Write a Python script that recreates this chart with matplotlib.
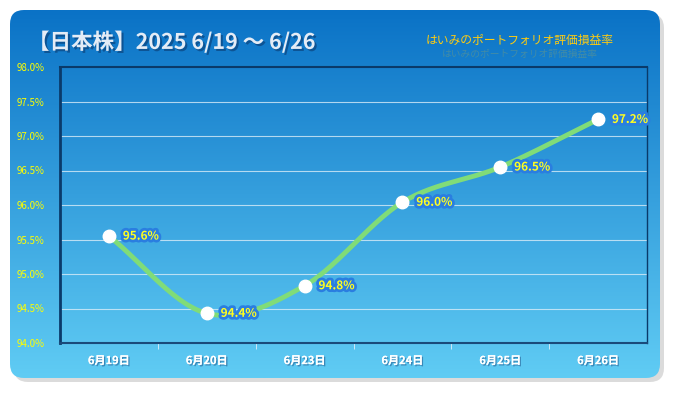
import numpy as np
import matplotlib
matplotlib.use("Agg")
import matplotlib.pyplot as plt
import matplotlib.patheffects as pe
from matplotlib.patches import FancyBboxPatch

plt.rcParams['font.family'] = ['Noto Sans CJK JP', 'DejaVu Sans']

dates = ["6月19日", "6月20日", "6月23日", "6月24日", "6月25日", "6月26日"]
values = [95.55, 94.43, 94.83, 96.04, 96.55, 97.24]
labels = ["95.6%", "94.4%", "94.8%", "96.0%", "96.5%", "97.2%"]
yticks = [94.0, 94.5, 95.0, 95.5, 96.0, 96.5, 97.0, 97.5, 98.0]

title = "【日本株】2025 6/19 〜 6/26"
subtitle = "はいみのポートフォリオ評価損益率"


def smooth(xs, ys, n=30):
    # catmull-rom curve through the points
    px = np.concatenate([[2 * xs[0] - xs[1]], xs, [2 * xs[-1] - xs[-2]]])
    py = np.concatenate([[2 * ys[0] - ys[1]], ys, [2 * ys[-1] - ys[-2]]])
    ox, oy = [], []
    for i in range(1, len(px) - 2):
        t = np.linspace(0, 1, n)
        for arr, out in ((px, ox), (py, oy)):
            p0, p1, p2, p3 = arr[i - 1], arr[i], arr[i + 1], arr[i + 2]
            out.extend(0.5 * ((2 * p1) + (-p0 + p2) * t
                              + (2 * p0 - 5 * p1 + 4 * p2 - p3) * t ** 2
                              + (-p0 + 3 * p1 - 3 * p2 + p3) * t ** 3))
    return np.array(ox), np.array(oy)


W, H = 675, 393
fig = plt.figure(figsize=(W / 100, H / 100), dpi=100)
fig.patch.set_facecolor("white")

bg = fig.add_axes([0, 0, 1, 1])
bg.set_xlim(0, W)
bg.set_ylim(H, 0)
bg.axis("off")

# shadow
shadow = FancyBboxPatch((14, 14), 650, 368, boxstyle="round,pad=0,rounding_size=14",
                        fc="#c4c4c4", ec="none", alpha=0.6)
bg.add_patch(shadow)
panel = FancyBboxPatch((10, 10), 650, 368, boxstyle="round,pad=0,rounding_size=14",
                       fc="none", ec="none")
bg.add_patch(panel)
grad = np.linspace(0, 1, 256).reshape(-1, 1)
top_c = np.array([0x0a, 0x72, 0xc6]) / 255
bot_c = np.array([0x60, 0xcc, 0xf4]) / 255
img = top_c + (bot_c - top_c) * grad[..., None]
im = bg.imshow(img, extent=[10, 660, 378, 10], aspect="auto", zorder=1)
im.set_clip_path(panel)

bg.text(28, 42, title, color="#e4ecf6", fontsize=15.5, fontweight="bold", va="center",
        path_effects=[pe.withSimplePatchShadow(offset=(1.5, -1.5), shadow_rgbFace="#0a3a70", alpha=0.6)],
        zorder=3)
bg.text(520, 40, subtitle, color="#ffcc10", fontsize=8.5, style="italic", ha="center",
        va="center", zorder=3)
bg.text(520, 54, subtitle, color="#ffcc10", fontsize=7, style="italic", ha="center",
        va="center", alpha=0.2, zorder=3)

ax = fig.add_axes([60 / W, 1 - 343 / H, 587 / W, 276 / H])
ax.set_facecolor("none")
ax.set_zorder(2)
x = np.arange(len(dates))
ax.set_xlim(-0.5, len(dates) - 0.5)
ax.set_ylim(94.0, 98.0)

for v in yticks[1:-1]:
    ax.axhline(v, color="#d8ecf8", lw=0.8, alpha=0.8, zorder=1)

sx, sy = smooth(x.astype(float), np.array(values))
ax.plot(sx, sy, color="#80dc78", lw=3.5, solid_capstyle="round", zorder=3)
ax.plot(x, values, "o", ms=9, mfc="white", mec="white", zorder=4)

for xi, v, lab in zip(x, values, labels):
    ax.annotate(lab, (xi, v), xytext=(10, 0), textcoords="offset points", va="center",
                color="#ffff20", fontsize=8.5, fontweight="bold", zorder=5,
                path_effects=[pe.withStroke(linewidth=4, foreground="#2a7ee0")])

ax.set_yticks(yticks)
ax.set_yticklabels([f"{v:.1f}%" for v in yticks])
ax.set_xticks(x)
ax.set_xticklabels(dates)
ax.tick_params(axis="y", length=0, colors="#ffff00", labelsize=7, pad=11)
ax.tick_params(axis="x", length=0, colors="white", labelsize=8, pad=8)
for t in ax.get_xticklabels():
    t.set_fontweight("bold")
    t.set_path_effects([pe.withSimplePatchShadow(offset=(1, -1), shadow_rgbFace="#1a4a80", alpha=0.5), pe.Normal()])
ax.set_xticks(np.arange(0.5, len(dates) - 1, 1), minor=True)
ax.tick_params(axis="x", which="minor", length=4, color="#e0f0fa", direction="out")

ax.spines["left"].set_color("#0a3a6a")
ax.spines["left"].set_linewidth(2)
ax.spines["top"].set_color("#0a3a6a")
ax.spines["top"].set_linewidth(1.5)
ax.spines["right"].set_color("#0a3a6a")
ax.spines["right"].set_linewidth(1)
ax.spines["bottom"].set_color("#1a4a7a")
ax.spines["bottom"].set_linewidth(1.5)

fig.savefig("out.png", dpi=100)
